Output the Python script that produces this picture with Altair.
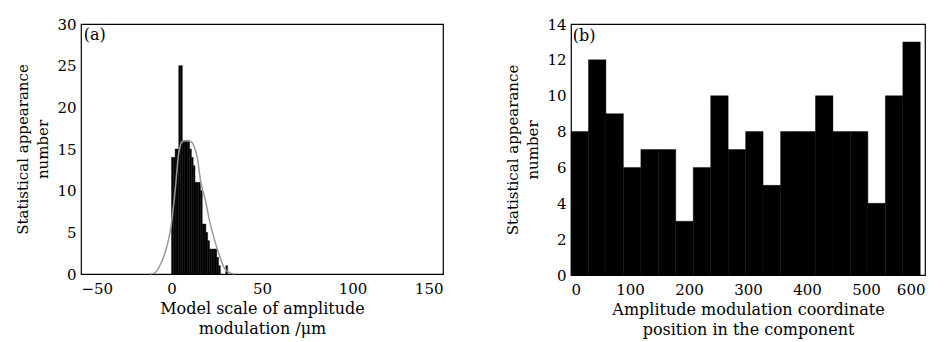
import altair as alt
import pandas as pd

# Panel (a): histogram of modulation scale (bin start, count), bin width 1
a_bin_start = [0, 1, 2, 3, 4, 5, 6, 7, 8, 9, 10, 11, 12, 13, 14, 15, 16, 17, 18,
               19, 20, 21, 22, 23, 24, 25, 26, 30]
a_counts = [14, 14, 15, 15, 25, 25, 16, 16, 16, 16, 15, 14, 13, 11, 11, 11, 10, 6, 6,
            5, 4, 3, 3, 3, 3, 2, 1, 1]
a_bin_width = 1.0

# Panel (a): fitted curve
curve_x = [-12, -9.6, -6, -2.2, -0.4, 2, 4, 6, 8, 10.6, 14.3, 16.1, 18.9, 20.7,
           23.5, 26.2, 29, 31.7, 35]
curve_y = [0, 0.1, 1.2, 3.6, 5.5, 10, 14.5, 15.9, 16, 15.9, 13.9, 11.1, 8.7, 6.7,
           4.3, 2.4, 0.8, 0.2, 0]

# Panel (b): histogram of coordinate position, 20 bins
b_counts = [8, 12, 9, 6, 7, 7, 3, 6, 10, 7, 8, 5, 8, 8, 10, 8, 8, 4, 10, 13]
b_bin_width = 29.6

a_yticks = [0, 5, 10, 15, 20, 25, 30]
a_xticks = [-50, 0, 50, 100, 150]
b_yticks = [0, 2, 4, 6, 8, 10, 12, 14]
b_xticks = [0, 100, 200, 300, 400, 500, 600]

FONT = "DejaVu Serif"

df_a = pd.DataFrame({"x": a_bin_start, "count": a_counts})
df_a["x2"] = df_a["x"] + a_bin_width
df_curve = pd.DataFrame({"x": curve_x, "y": curve_y})
df_b = pd.DataFrame({"count": b_counts})
df_b["x"] = [i * b_bin_width for i in range(len(b_counts))]
df_b["x2"] = df_b["x"] + b_bin_width

ax_style = dict(domain=False, ticks=False, grid=False, labelOverlap=False,
                labelFont=FONT, titleFont=FONT, labelFontSize=15,
                titleFontWeight="normal", labelColor="black", titleColor="black")

xa = alt.Scale(domain=[-50, 150], nice=False)
ya = alt.Scale(domain=[0, 30], nice=False)
xa_axis = alt.Axis(values=a_xticks, title=["Model scale of amplitude", "modulation /μm"],
                   titlePadding=4, labelPadding=7, titleFontSize=16, **ax_style)
ya_axis = alt.Axis(values=a_yticks, title=["Statistical appearance", "number"],
                   titlePadding=6, labelPadding=5, titleFontSize=15, **ax_style)

bars_a = alt.Chart(df_a).mark_bar(color="black", stroke="black", strokeWidth=0.4).encode(
    x=alt.X("x:Q", scale=xa, axis=xa_axis),
    x2="x2:Q",
    y=alt.Y("count:Q", scale=ya, axis=ya_axis),
    y2=alt.datum(0),
)
curve_a = alt.Chart(df_curve).mark_line(color="#9a9a9a", strokeWidth=1.5,
                                        interpolate="monotone").encode(
    x=alt.X("x:Q", scale=xa, axis=xa_axis), y=alt.Y("y:Q", scale=ya, axis=ya_axis))
lab_a = alt.Chart(pd.DataFrame({"x": [-48.5], "y": [29.6], "t": ["(a)"]})).mark_text(
    align="left", baseline="top", fontSize=16, font=FONT, color="black").encode(
    x=alt.X("x:Q", scale=xa, axis=xa_axis), y=alt.Y("y:Q", scale=ya, axis=ya_axis),
    text="t:N")

left = alt.layer(bars_a, curve_a, lab_a).properties(width=362, height=250)

xb = alt.Scale(domain=[0, 600], nice=False)
yb = alt.Scale(domain=[0, 14], nice=False)
xb_axis = alt.Axis(values=b_xticks,
                   title=["Amplitude modulation coordinate", "position in the component"],
                   titlePadding=4, labelPadding=7, titleFontSize=16, **ax_style)
yb_axis = alt.Axis(values=b_yticks, title=["Statistical appearance", "number"],
                   titlePadding=6, labelPadding=5, titleFontSize=15, **ax_style)
bars_b = alt.Chart(df_b).mark_bar(color="black", stroke="black", strokeWidth=0.4).encode(
    x=alt.X("x:Q", scale=xb, axis=xb_axis),
    x2="x2:Q",
    y=alt.Y("count:Q", scale=yb, axis=yb_axis),
    y2=alt.datum(0),
)
lab_b = alt.Chart(pd.DataFrame({"x": [3], "y": [13.75], "t": ["(b)"]})).mark_text(
    align="left", baseline="top", fontSize=16, font=FONT, color="black").encode(
    x=alt.X("x:Q", scale=xb, axis=xb_axis), y=alt.Y("y:Q", scale=yb, axis=yb_axis),
    text="t:N")
right = alt.layer(bars_b, lab_b).properties(width=354, height=251)

chart = alt.hconcat(left, right, spacing=61).configure(
    font=FONT
).configure_view(
    stroke="black", strokeWidth=1.2
).configure_axis(
    titleLineHeight=20
).properties(padding={"left": 7, "top": 8, "right": 5, "bottom": 2})

chart.save("out.html", embed_options={"renderer": "svg", "actions": False})
